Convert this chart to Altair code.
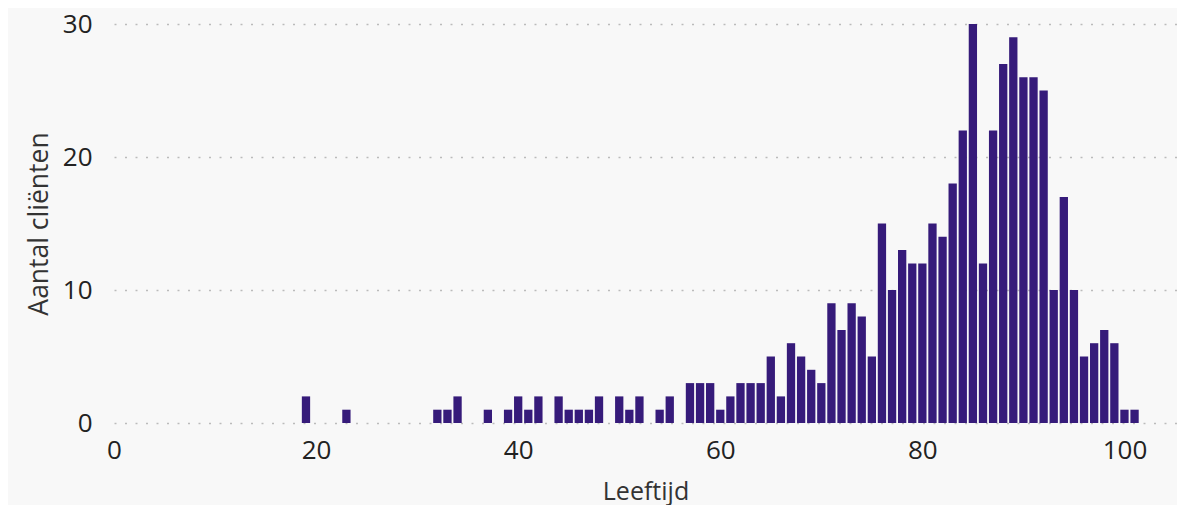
import altair as alt
import pandas as pd

ages = [19, 23, 32, 33, 34, 37, 39, 40, 41, 42, 44, 45, 46, 47, 48, 50, 51, 52, 54, 55,
        57, 58, 59, 60, 61, 62, 63, 64, 65, 66, 67, 68, 69, 70, 71, 72, 73, 74, 75, 76,
        77, 78, 79, 80, 81, 82, 83, 84, 85, 86, 87, 88, 89, 90, 91, 92, 93, 94, 95, 96,
        97, 98, 99, 100, 101, 106]
counts = [2, 1, 1, 1, 2, 1, 1, 2, 1, 2, 2, 1, 1, 1, 2, 2, 1, 2, 1, 2,
          3, 3, 3, 1, 2, 3, 3, 3, 5, 2, 6, 5, 4, 3, 9, 7, 9, 8, 5, 15,
          10, 13, 12, 12, 15, 14, 18, 22, 30, 12, 22, 27, 29, 26, 26, 25, 10, 17, 10, 5,
          6, 7, 6, 1, 1, 1]
x_ticks = [0, 20, 40, 60, 80, 100]
y_ticks = [0, 10, 20, 30]

df = pd.DataFrame({"Leeftijd": ages, "Aantal": counts})

font = "Open Sans, Segoe UI, sans-serif"

chart = (
    alt.Chart(df)
    .mark_bar(width=8.3, color="#361b7a", clip=True)
    .encode(
        x=alt.X(
            "Leeftijd:Q",
            scale=alt.Scale(domain=[0, 105.2], nice=False, zero=False, padding=0),
            axis=alt.Axis(
                values=x_ticks,
                title="Leeftijd",
                grid=False,
                domain=False,
                ticks=False,
                labelFlush=False,
                labelFont=font,
                labelFontSize=26,
                labelColor="#222222",
                labelPadding=14.5,
                titleFont=font,
                titleFontSize=25,
                titleFontWeight="normal",
                titleColor="#333333",
                titleBaseline="alphabetic",
                titleY=76,
            ),
        ),
        y=alt.Y(
            "Aantal:Q",
            scale=alt.Scale(domain=[0, 30], nice=False, padding=0),
            axis=alt.Axis(
                values=y_ticks,
                title="Aantal cliënten",
                grid=True,
                gridColor="#bbbbbb",
                gridDash=[2, 8.5],
                gridWidth=1.3,
                domain=False,
                ticks=False,
                labelFont=font,
                labelFontSize=26,
                labelColor="#222222",
                labelPadding=22,
                titleFont=font,
                titleFontSize=26.5,
                titleFontWeight="normal",
                titleColor="#333333",
                titleAngle=-90,
                titleAlign="center",
                titleBaseline="alphabetic",
                titleX=-67,
                titleY=199.5,
            ),
        ),
    )
    .properties(
        width=1063,
        height=399,
        background="#f8f8f8",
        padding={"left": 106, "top": 16, "right": 0, "bottom": 82},
        autosize=alt.AutoSizeParams(type="none"),
    )
    .configure_view(stroke=None)
)

chart.save("out.html", embed_options={"renderer": "svg", "actions": False})
